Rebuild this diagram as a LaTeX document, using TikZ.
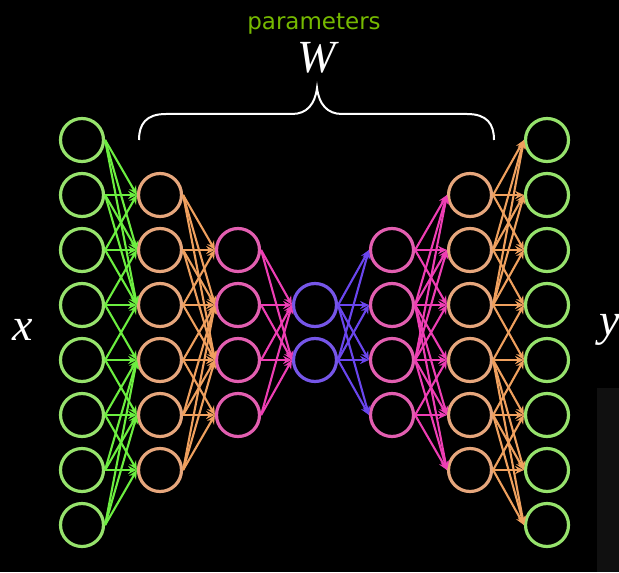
\documentclass[tikz,border=0pt]{standalone}
\usepackage{fontspec}
\newfontfamily\paramfont{DejaVu Sans}
\newfontfamily\varfont{Liberation Serif}
\usetikzlibrary{arrows.meta}

\definecolor{leafring}{HTML}{96E26C}
\definecolor{leafline}{HTML}{6CEE40}
\definecolor{peachring}{HTML}{E6A67C}
\definecolor{peachline}{HTML}{EFA05E}
\definecolor{roseling}{HTML}{E25EB0}
\definecolor{roseline}{HTML}{EE3EB4}
\definecolor{irisring}{HTML}{7656E8}
\definecolor{irisline}{HTML}{6A46EE}
\definecolor{nvgreen}{HTML}{76B900}
\definecolor{panelgrey}{HTML}{101010}

\begin{document}
\begin{tikzpicture}[
  x=0.5pt,y=-0.5pt,
  >={Stealth[length=4.4pt,width=4pt]},
  neuron/.style={circle,draw=#1,line width=1.6pt,minimum size=21.5pt,inner sep=0pt},
  link/.style={->,draw=#1,line width=1.05pt},
  varlabel/.style={text=white,font=\varfont\itshape\fontsize{23}{23}\selectfont}
]
  \fill[black] (0,0) rectangle (619,572);
  \fill[panelgrey] (597,388) rectangle (619,572);
  \clip (0,0) rectangle (619,572);

  % layers: name/size/x/colour
  \foreach \lname/\n/\lx/\col in {in/8/82/leafring,ea/6/160/peachring,eb/4/238/roseling,
      code/2/315/irisring,db/4/392/roseling,da/6/470/peachring,out/8/547/leafring}
    \foreach \i in {1,...,\n}
      \node[neuron=\col] (\lname\i) at (\lx,{332.5+(\i-(\n+1)/2)*55}) {};

  % encoder: every unit feeds its 3 nearest units
  \foreach \s/\t/\ns/\nt/\col in {in/ea/8/6/leafline,ea/eb/6/4/peachline}
    \foreach \i in {1,...,\ns}{
      \pgfmathtruncatemacro\first{min(max(\i-2,1),\nt-2)}
      \pgfmathtruncatemacro\last{\first+2}
      \foreach \j in {\first,...,\last}
        \draw[link=\col] (\s\i.east) -- (\t\j.west);
    }
  % bottleneck: fully connected
  \foreach \i in {1,...,4}
    \foreach \j in {1,2}{
      \draw[link=roseline] (eb\i.east) -- (code\j.west);
      \draw[link=irisline] (code\j.east) -- (db\i.west);
    }
  % decoder: every unit is fed by its 3 nearest units
  \foreach \s/\t/\ns/\nt/\col in {db/da/4/6/roseline,da/out/6/8/peachline}
    \foreach \j in {1,...,\nt}{
      \pgfmathtruncatemacro\first{min(max(\j-2,1),\ns-2)}
      \pgfmathtruncatemacro\last{\first+2}
      \foreach \i in {\first,...,\last}
        \draw[link=\col] (\s\i.east) -- (\t\j.west);
    }

  % brace over the weights
  \draw[white,line width=1pt] (139,140) .. controls (139,124) and (146,114) .. (166,114)
    -- (292,114) .. controls (307,114) and (315,104) .. (317,88)
    .. controls (319,104) and (327,114) .. (342,114)
    -- (467,114) .. controls (487,114) and (494,124) .. (494,140);
  \node[text=nvgreen,font=\paramfont\fontsize{11.5}{11.5}\selectfont] (params) at (314,24) {parameters};
  \node[varlabel] (weights) at (317,58) {W};
  \node[varlabel] (xin) at (23,330) {x};
  \node[varlabel] (yout) at (610,330) {y};
\end{tikzpicture}
\end{document}
